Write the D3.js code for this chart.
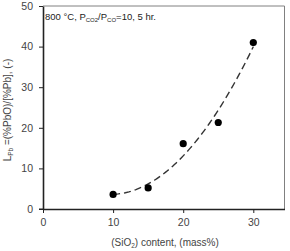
<!DOCTYPE html>
<html><head><meta charset="utf-8">
<script src="https://cdn.jsdelivr.net/npm/d3@7"></script>
<style>body{margin:0;background:#fff}svg{display:block}text{font-family:"Liberation Sans",Arial,sans-serif}</style>
</head><body>
<svg id="c" width="290" height="251"></svg>
<script>
const silica = [10, 15, 20, 25, 30];
const lpb = [3.6, 5.2, 16.1, 21.3, 41.0];
const xTicks = [0, 10, 20, 30];
const yTicks = [0, 10, 20, 30, 40, 50];

const svg = d3.select("#c");
const L = 43, R = 284.5, T = 6, B = 209;
const x = d3.scaleLinear().domain([0, 34.45]).range([L, R]);
const y = d3.scaleLinear().domain([0, 50]).range([B, T]);

// frame (top/right)
svg.append("path").attr("d", `M${L},${T}H${R}V${B}`).attr("fill","none").attr("stroke","#808080").attr("stroke-width",1);

// quadratic least-squares trendline computed from the data
function polyfit2(xs, ys){
  const n = xs.length, mx = d3.mean(xs);
  const u = xs.map(v=>v-mx);
  const su2 = d3.sum(u,v=>v*v), su4 = d3.sum(u,v=>v**4), sy = d3.sum(ys);
  const suy = d3.sum(u.map((v,i)=>v*ys[i])), su2y = d3.sum(u.map((v,i)=>v*v*ys[i]));
  const Bc = suy/su2;
  const C = (su2y - su2*sy/n)/(su4 - su2*su2/n);
  const A = (sy - C*su2)/n;
  return t => A + Bc*(t-mx) + C*(t-mx)**2;
}
const f = polyfit2(silica, lpb);
const curve = d3.range(silica[0], silica[silica.length-1]+0.001, 0.25).map(t=>[t,f(t)]);
svg.append("path").datum(curve)
  .attr("d", d3.line().x(d=>x(d[0])).y(d=>y(d[1])))
  .attr("fill","none").attr("stroke","#333").attr("stroke-width",1.4).attr("stroke-dasharray","7,4");

// axes
const gx = svg.append("g").attr("transform",`translate(0,${B})`)
  .call(d3.axisBottom(x).tickValues(xTicks).tickSize(4).tickSizeOuter(0).tickPadding(6));
const gy = svg.append("g").attr("transform",`translate(${L},0)`)
  .call(d3.axisLeft(y).tickValues(yTicks).tickSize(4).tickSizeOuter(0).tickPadding(6));
[gx, gy].forEach(g=>{
  g.select(".domain").attr("stroke","#222").attr("stroke-width",1.6);
  g.selectAll(".tick line").attr("stroke","#222").attr("stroke-width",1);
  g.selectAll(".tick text").attr("fill","#444").attr("font-size",10.5);
});
svg.append("line").attr("x1",L-4).attr("x2",L).attr("y1",B).attr("y2",B).attr("stroke","#222");

// points
svg.selectAll("circle.pt").data(silica).join("circle")
  .attr("cx",(d)=>x(d)).attr("cy",(d,i)=>y(lpb[i])).attr("r",3.6).attr("fill","#000");

// annotation
const ann = svg.append("text").attr("x",45).attr("y",20).attr("font-size",9.5).attr("fill","#222");
ann.append("tspan").text("800 °C, P");
ann.append("tspan").attr("font-size",6).attr("dy",2).text("CO2");
ann.append("tspan").attr("dy",-2).text("/P");
ann.append("tspan").attr("font-size",6).attr("dy",2).text("CO");
ann.append("tspan").attr("dy",-2).text("=10, 5 hr.");

// x label
const xl = svg.append("text").attr("x",165).attr("y",246).attr("text-anchor","middle").attr("font-size",10).attr("fill","#444");
xl.append("tspan").text("(SiO");
xl.append("tspan").attr("font-size",6.5).attr("dy",2).text("2");
xl.append("tspan").attr("dy",-2).text(") content, (mass%)");

// y label
const yl = svg.append("text").attr("transform","translate(11,110) rotate(-90)").attr("text-anchor","middle").attr("font-size",10).attr("fill","#444");
yl.append("tspan").text("L");
yl.append("tspan").attr("font-size",6.5).attr("dy",2).text("Pb");
yl.append("tspan").attr("dy",-2).text(" =(%PbO)/[%Pb], (-)");
</script>
</body></html>
